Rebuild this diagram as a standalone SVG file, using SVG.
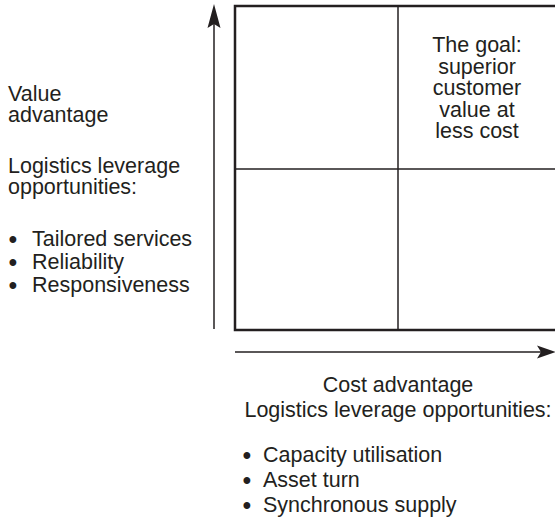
<svg xmlns="http://www.w3.org/2000/svg" width="555" height="522" viewBox="0 0 555 522">
<style>
text{font-family:"Liberation Sans",Arial,Helvetica,sans-serif;font-size:21.5px;fill:#231f20}
.mid{text-anchor:middle}
.bul{font-size:25px}
.frame{fill:none;stroke:#231f20;stroke-width:2.5}
.div{stroke:#231f20;stroke-width:1.5;fill:none}
.axis{stroke:#231f20;stroke-width:1.5;fill:none}
.head{fill:#231f20;stroke:none}
</style>
<rect width="555" height="522" fill="#ffffff"/>
<g id="matrix">
<rect class="frame" x="235" y="6" width="330" height="324"/>
<line class="div" x1="398" y1="6" x2="398" y2="329"/>
<line class="div" x1="235" y1="169" x2="565" y2="169"/>
</g>
<g id="connectors">
<line class="axis" x1="214" y1="329" x2="214" y2="22"/>
<polygon class="head" points="214,4 220.5,28 214,24 207.5,28"/>
<line class="axis" x1="235" y1="352" x2="542" y2="352"/>
<polygon class="head" points="556,352 537,358.5 541,352 537,345.5"/>
</g>
<g id="goal">
<text class="mid"><tspan x="477" y="52">The goal:</tspan><tspan x="477" y="73.5">superior</tspan><tspan x="477" y="95">customer</tspan><tspan x="477" y="116.5">value at</tspan><tspan x="477" y="138">less cost</tspan></text>
</g>
<g id="value-advantage">
<text><tspan x="8" y="101">Value</tspan><tspan x="8" y="122">advantage</tspan></text>
<text><tspan x="8" y="173">Logistics leverage</tspan><tspan x="8" y="194">opportunities:</tspan></text>
<text><tspan class="bul" x="8.5" y="248">•</tspan><tspan x="32" y="246">Tailored services</tspan><tspan class="bul" x="8.5" y="271">•</tspan><tspan x="32" y="269">Reliability</tspan><tspan class="bul" x="8.5" y="294">•</tspan><tspan x="32" y="292">Responsiveness</tspan></text>
</g>
<g id="cost-advantage">
<text class="mid"><tspan x="398" y="392">Cost advantage</tspan><tspan x="398" y="417">Logistics leverage opportunities:</tspan></text>
<text><tspan class="bul" x="242.5" y="464">•</tspan><tspan x="263" y="462">Capacity utilisation</tspan><tspan class="bul" x="242.5" y="489">•</tspan><tspan x="263" y="487">Asset turn</tspan><tspan class="bul" x="242.5" y="514">•</tspan><tspan x="263" y="512">Synchronous supply</tspan></text>
</g>
</svg>
